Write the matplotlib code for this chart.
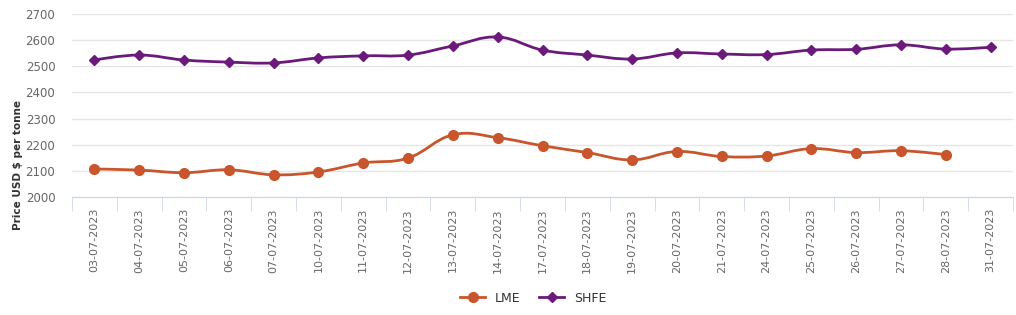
import matplotlib
matplotlib.use("Agg")
import matplotlib.pyplot as plt
from matplotlib.path import Path
from matplotlib.patches import PathPatch
from matplotlib.lines import Line2D

dates = ["03-07-2023", "04-07-2023", "05-07-2023", "06-07-2023", "07-07-2023",
         "10-07-2023", "11-07-2023", "12-07-2023", "13-07-2023", "14-07-2023",
         "17-07-2023", "18-07-2023", "19-07-2023", "20-07-2023", "21-07-2023",
         "24-07-2023", "25-07-2023", "26-07-2023", "27-07-2023", "28-07-2023",
         "31-07-2023"]
lme = [2107, 2103, 2093, 2104, 2085, 2096, 2130, 2149, 2238, 2227,
       2196, 2170, 2142, 2174, 2155, 2157, 2185, 2170, 2177, 2162]
shfe = [2524, 2543, 2524, 2516, 2513, 2532, 2540, 2543, 2578, 2612,
        2562, 2543, 2528, 2551, 2547, 2545, 2562, 2565, 2582, 2566, 2573]

LME_C = "#c9552c"
SHFE_C = "#6b1a7b"


def spline_path(xs, ys, smooth=1.5):
    # highcharts-like spline: bezier control points from neighbours
    verts = [(xs[0], ys[0])]
    codes = [Path.MOVETO]
    n = len(xs)
    def ctrl(i):
        if i == 0 or i == n - 1:
            return (xs[i], ys[i]), (xs[i], ys[i])
        d = smooth + 1
        lx = (smooth * xs[i] + xs[i - 1]) / d
        ly = (smooth * ys[i] + ys[i - 1]) / d
        rx = (smooth * xs[i] + xs[i + 1]) / d
        ry = (smooth * ys[i] + ys[i + 1]) / d
        if rx != lx:
            corr = ((ry - ly) * (rx - xs[i])) / (rx - lx) + ys[i] - ry
            ly += corr
            ry += corr
        return (lx, ly), (rx, ry)
    for i in range(1, n):
        _, r = ctrl(i - 1)
        l, _ = ctrl(i)
        verts += [r, l, (xs[i], ys[i])]
        codes += [Path.CURVE4] * 3
    return Path(verts, codes)


fig = plt.figure(figsize=(10.16, 3.15), dpi=100)
ax = fig.add_axes([72 / 1016, 118 / 315, 941 / 1016, 183 / 315])

for vals, col, mk, ms in [(lme, LME_C, "o", 7), (shfe, SHFE_C, "D", 5)]:
    xs = list(range(len(vals)))
    ax.add_patch(PathPatch(spline_path(xs, vals), facecolor="none",
                           edgecolor=col, lw=2, zorder=3))
    ax.plot(xs, vals, ls="none", marker=mk, ms=ms, color=col, zorder=4)

ax.set_xlim(-0.5, len(dates) - 0.5)
ax.set_ylim(2000, 2700)
ax.set_yticks(range(2000, 2701, 100))
ax.grid(axis="y", color="#e6e6e6", lw=1)
ax.set_axisbelow(True)
for s in ["top", "right", "left"]:
    ax.spines[s].set_visible(False)
ax.spines["bottom"].set_color("#ccd6eb")

ax.set_xticks(range(len(dates)))
ax.set_xticklabels(dates, rotation=90, fontsize=8, color="#666666")
ax.set_xticks([i - 0.5 for i in range(len(dates) + 1)], minor=True)
ax.tick_params(axis="x", which="major", length=0, pad=8)
ax.tick_params(axis="x", which="minor", length=10, color="#ccd6eb")
ax.tick_params(axis="y", length=0, labelsize=8.5, labelcolor="#666666", pad=12)

fig.text(18 / 1016, 150 / 315, "Price USD $ per tonne", rotation=90,
         ha="center", va="center", fontsize=7.5, fontweight="bold", color="#333333")

handles = [Line2D([], [], color=LME_C, marker="o", ms=7, lw=2),
           Line2D([], [], color=SHFE_C, marker="D", ms=5, lw=2)]
fig.legend(handles, ["LME", "SHFE"], loc="center", bbox_to_anchor=(0.525, 17 / 315),
           ncol=2, frameon=False, fontsize=9, handlelength=2, columnspacing=1.5,
           labelcolor="#333333")

fig.savefig("out.png", dpi=100)
